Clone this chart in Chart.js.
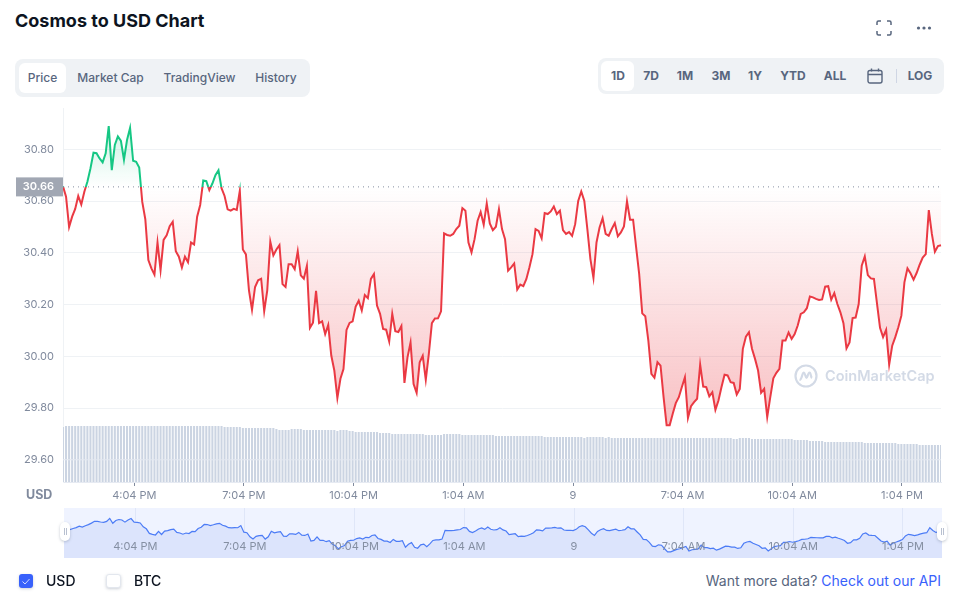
<!DOCTYPE html>
<html>
<head>
<meta charset="utf-8">
<title>Cosmos to USD Chart</title>
<script src="https://cdn.jsdelivr.net/npm/chart.js@4"></script>
<style>
  html, body { margin: 0; padding: 0; background: #fff; }
  body { width: 969px; height: 609px; position: relative; overflow: hidden; font-family: Inter, sans-serif; color: #58667e; }
  .abs { position: absolute; }
  .title { left: 15px; top: 10px; font-size: 18px; line-height: 22px; font-weight: 700; color: #0d1421; white-space: nowrap; }
  .panel { background: #eff2f5; border-radius: 8px; }
  .pill { background: #fff; border-radius: 6px; }
  .lbl { font-size: 12px; line-height: 16px; font-weight: 500; white-space: nowrap; transform: translateX(-50%); }
  #mainChart { left: 0; top: 100px; }
  #navBox { left: 64px; top: 508px; width: 878px; height: 50px; background: #eff3ff; }
  .handle { width: 10px; height: 19px; top: 522px; background: #fff; border-radius: 5px; box-shadow: 0 1px 3px rgba(88,102,126,.35); }
  .handle i { position: absolute; top: 6px; width: 1px; height: 7px; background: #b8c0d0; }
  .usd { left: 26px; top: 487px; font-size: 12.500px; line-height: 15px; font-weight: 700; color: #808a9d; }
  .mark { left: 825px; top: 366px; font-size: 14.500px; line-height: 20px; font-weight: 600; color: #d3dae6; white-space: nowrap; }
  .box { top: 574px; width: 14px; height: 14px; border-radius: 3px; box-shadow: 0 1px 3px rgba(88,102,126,.3); }
  .leg { top: 572px; font-size: 14px; line-height: 18px; font-weight: 500; color: #0d1421; }
  .api { right: 28px; top: 572px; font-size: 14px; line-height: 18px; color: #58667e; white-space: nowrap; }
  .api a { color: #3861fb; text-decoration: none; }
</style>
</head>
<body>
<div class="abs title">Cosmos to USD Chart</div>

<svg class="abs" style="left:876px;top:20px" width="16" height="16" viewBox="0 0 16 16" fill="none" stroke="#58667e" stroke-width="1.5">
  <path d="M1 5V2.5A1.5 1.5 0 0 1 2.500 1H5M11 1h2.500A1.500 1.500 0 0 1 15 2.500V5M15 11v2.500a1.500 1.500 0 0 1-1.500 1.500H11M5 15H2.500A1.500 1.500 0 0 1 1 13.500V11"/>
</svg>
<svg class="abs" style="left:916px;top:25px" width="16" height="6" viewBox="0 0 16 6" fill="#58667e">
  <circle cx="2.500" cy="3" r="1.600"/><circle cx="8" cy="3" r="1.600"/><circle cx="13.500" cy="3" r="1.600"/>
</svg>

<!-- tabs left -->
<div class="abs panel" style="left:15px;top:59px;width:295px;height:38px"></div>
<div class="abs pill" style="left:19px;top:63px;width:47px;height:30px"></div>
<div class="abs lbl" style="left:42.500px;top:70px">Price</div>
<div class="abs lbl" style="left:110.500px;top:70px">Market Cap</div>
<div class="abs lbl" style="left:199.500px;top:70px">TradingView</div>
<div class="abs lbl" style="left:276px;top:70px">History</div>

<!-- range right -->
<div class="abs panel" style="left:598px;top:58px;width:346px;height:36px"></div>
<div class="abs pill" style="left:601px;top:61px;width:33px;height:30px"></div>
<div class="abs lbl" style="left:618px;top:68px;font-weight:700">1D</div>
<div class="abs lbl" style="left:651px;top:68px;font-weight:700">7D</div>
<div class="abs lbl" style="left:685px;top:68px;font-weight:700">1M</div>
<div class="abs lbl" style="left:721px;top:68px;font-weight:700">3M</div>
<div class="abs lbl" style="left:755px;top:68px;font-weight:700">1Y</div>
<div class="abs lbl" style="left:793px;top:68px;font-weight:700">YTD</div>
<div class="abs lbl" style="left:835px;top:68px;font-weight:700">ALL</div>
<svg class="abs" style="left:867px;top:68px" width="16" height="16" viewBox="0 0 16 16" fill="none" stroke="#58667e" stroke-width="1.400">
  <rect x="1" y="2.500" width="14" height="12.500" rx="2"/><path d="M1 6.500h14M4.500 0.500v3M11.500 0.500v3"/>
</svg>
<div class="abs" style="left:896px;top:69px;width:1px;height:14px;background:#cfd6e4"></div>
<div class="abs lbl" style="left:920px;top:68px;font-weight:700">LOG</div>

<canvas id="mainChart" class="abs" width="969" height="410" style="width:969px;height:410px"></canvas>
<div class="abs usd">USD</div>

<svg class="abs" style="left:794px;top:364px" width="24" height="24" viewBox="0 0 24 24" fill="none" stroke="#d3dae6" stroke-width="2.200">
  <circle cx="12" cy="12" r="10.500"/><path d="M5.500 16c1.500 0 2-2 2.500-4s1-3.500 2-3.500 1.500 5.500 2.500 5.500 1.500-5.500 3-5.500 1 4.500 2.500 5.500"/>
</svg>
<div class="abs mark">CoinMarketCap</div>

<div id="navBox" class="abs"><canvas id="navChart" width="878" height="50" style="width:878px;height:50px;display:block"></canvas></div>
<div class="abs handle" style="left:60px"><i style="left:3.500px"></i><i style="left:5.500px"></i></div>
<div class="abs handle" style="left:937px"><i style="left:3.500px"></i><i style="left:5.500px"></i></div>

<div class="abs box" style="left:19px;background:#3861fb"></div>
<svg class="abs" style="left:19px;top:574px" width="14" height="14" viewBox="0 0 14 14" fill="none" stroke="#cfd9ff" stroke-width="1"><path d="M3.500 7.500l2.500 2.500 4.500-5"/></svg>
<div class="abs leg" style="left:46px">USD</div>
<div class="abs box" style="left:105.500px;width:15px;background:#fff;border:1px solid #e3e7ee;box-sizing:border-box"></div>
<div class="abs leg" style="left:134px">BTC</div>
<div class="abs api">Want more data? <a>Check out our API</a></div>

<script>
// prezzo ogni 5 min
const closePrices = [
  30.657,30.617,30.50,30.54,30.57,30.62,30.587,30.636,30.675,30.726,
  30.787,30.785,30.765,30.75,30.785,30.89,30.72,30.817,30.85,30.833,
  30.76,30.836,30.883,30.756,30.752,30.73,30.597,30.53,30.372,30.34,
  30.316,30.44,30.333,30.45,30.468,30.503,30.52,30.406,30.385,30.343,
  30.385,30.364,30.44,30.432,30.54,30.585,30.68,30.677,30.643,30.668,
  30.70,30.719,30.65,30.62,30.568,30.563,30.57,30.566,30.64,30.413,
  30.394,30.255,30.18,30.268,30.294,30.30,30.175,30.255,30.443,30.39,
  30.413,30.43,30.279,30.268,30.356,30.356,30.337,30.406,30.313,30.30,
  30.35,30.11,30.13,30.253,
  30.128,30.135,30.086,30.121,30.003,29.945,29.839,29.913,29.951,30.102,
  30.129,30.135,30.192,30.215,30.177,30.237,30.225,30.299,30.318,30.196,
  30.164,30.106,30.103,30.057,30.164,30.097,30.094,30.117,29.897,29.996,
  30.053,29.893,29.859,29.977,30.002,29.909,30.009,30.128,30.146,30.147,
  30.174,30.475,30.469,30.466,30.473,30.492,30.505,30.573,30.563,30.44,
  30.402,30.453,30.524,30.558,30.509,30.591,30.514,30.488,30.501,30.569,
  30.492,30.453,30.331,30.344,30.359,30.258,30.277,30.271,30.299,30.344,
  30.395,30.492,30.485,30.456,30.554,30.55,30.56,30.579,30.55,30.563,
  30.488,30.473,30.48,30.466,30.511,30.601,30.637,30.601,30.492,30.376,
  30.303,30.44,30.498,30.534,30.473,30.466,30.492,30.515,30.464,30.479,
  30.502,30.599,30.528,30.528,
  30.421,30.318,30.166,30.155,30.061,29.932,29.917,29.977,29.964,29.842,
  29.733,29.733,29.778,29.819,29.842,29.881,29.919,29.762,29.807,29.823,
  29.836,29.968,29.883,29.881,29.845,29.861,29.793,29.829,29.881,29.929,
  29.926,29.90,29.897,29.852,29.874,30.029,30.076,30.093,30.029,29.99,
  29.945,29.859,29.874,29.765,29.842,29.915,29.936,29.951,30.061,30.061,
  30.092,30.067,30.086,30.119,30.164,30.17,30.186,30.231,30.228,30.222,
  30.218,30.22,30.269,30.271,30.219,30.244,30.202,30.17,30.128,30.031,
  30.054,30.148,30.15,30.202,30.35,30.386,30.314,30.301,30.299,30.205,
  30.11,30.074,30.102,29.968,30.041,30.074,30.112,30.157,30.286,30.34,
  30.321,30.296,30.322,30.354,30.382,30.395,30.565,30.473,30.404,30.426,
  30.429
];

// volume, unita' arbitrarie
const volumes = [
  55,56,56,56,56,56,56,56,56,56,56,56,56,56,56,56,56,56,56,56,
  56,56,56,56,56,56,56,56,56,56,56,56,56,56,56,56,56,56,56,56,
  56,56,56,56,56,56,56,56,56,56,56,56,56,55,55,55,55,55,55,54,
  54,54,54,54,54,54,54,54,54,54,53,52,52,52,52,53,53,53,53,52,
  52,52,52,52,52,52,52,52,52,52,51,52,52,52,51,51,50,50,50,50,
  50,50,50,50,49,49,49,49,48,48,48,48,48,48,48,48,48,48,48,47,
  47,47,47,47,47,48,48,48,48,48,48,47,47,47,47,47,47,47,47,47,
  47,47,46,46,46,46,46,46,46,46,46,46,46,46,46,46,46,46,45,45,
  45,45,45,45,45,45,45,45,45,45,45,44,45,45,45,45,45,45,44,45,
  44,44,44,44,44,44,44,44,44,44,44,44,44,44,44,44,44,44,44,44,
  44,44,44,44,44,44,44,44,44,44,44,44,44,44,44,44,44,44,44,44,
  43,43,44,44,44,44,43,43,43,43,43,43,43,43,43,43,43,43,43,43,
  42,42,42,42,42,41,41,41,41,41,40,40,40,40,40,40,40,40,40,40,
  40,40,40,39,39,39,39,39,39,39,39,39,39,39,38,38,38,38,38,38,
  38,37,37,37,37,37,37,37,37
];

const basePrice = 30.655;
const baseLabel = '30.66';
const priceTicks = [29.6, 29.8, 30.0, 30.2, 30.4, 30.6, 30.8];
const timeTicks = [23.4, 59.3, 95.3, 131.3, 167.3, 203.2, 239.2, 275.2];
const timeLabels = ['4:04 PM', '7:04 PM', '10:04 PM', '1:04 AM', '9', '7:04 AM', '10:04 AM', '1:04 PM'];

const categories = closePrices.map((_, i) => i);
const baseLine = closePrices.map(() => basePrice);
const lowLine = closePrices.map(() => priceTicks[0]);

const RED = '#ea3943';
const GREEN = '#16c784';
const GREY = '#808a9d';
const GRID = '#eff2f5';

// sopra la base verde, sotto rosso
function lineColor(ctx) {
  const chart = ctx.chart;
  const area = chart.chartArea;
  const yBase = chart.scales.y ? chart.scales.y.getPixelForValue(basePrice) : NaN;
  if (!area || !isFinite(yBase)) return RED;
  const stop = (yBase - area.top) / (area.bottom - area.top);
  const g = chart.ctx.createLinearGradient(0, area.top, 0, area.bottom);
  g.addColorStop(0, GREEN);
  g.addColorStop(stop, GREEN);
  g.addColorStop(stop, RED);
  g.addColorStop(1, RED);
  return g;
}

function fillColors(ctx) {
  const chart = ctx.chart;
  const y = chart.scales.y;
  const yBase = y ? y.getPixelForValue(basePrice) : NaN;
  if (!isFinite(yBase)) return { target: { value: basePrice }, above: 'transparent', below: 'transparent' };
  const up = chart.ctx.createLinearGradient(0, y.getPixelForValue(30.89), 0, yBase);
  up.addColorStop(0, 'rgba(22,199,132,0.22)');
  up.addColorStop(1, 'rgba(22,199,132,0)');
  const down = chart.ctx.createLinearGradient(0, yBase, 0, y.getPixelForValue(29.73));
  down.addColorStop(0, 'rgba(234,57,67,0)');
  down.addColorStop(1, 'rgba(234,57,67,0.32)');
  return { target: { value: basePrice }, above: up, below: down };
}

// etichetta grigia col prezzo di riferimento
const baseTag = {
  id: 'baseTag',
  afterDraw(chart) {
    const c = chart.ctx;
    const yBase = chart.scales.y.getPixelForValue(basePrice);
    c.save();
    c.fillStyle = '#a1a7b3';
    c.fillRect(16, yBase - 9.5, chart.chartArea.left - 16, 19);
    c.fillStyle = '#fff';
    c.font = '600 11px Inter';
    c.textAlign = 'right';
    c.textBaseline = 'middle';
    c.fillText(baseLabel, chart.chartArea.left - 9, yBase);
    c.restore();
  }
};

new Chart(document.getElementById('mainChart'), {
  type: 'line',
  data: {
    labels: categories,
    datasets: [
      {
        data: closePrices,
        yAxisID: 'y',
        borderColor: lineColor,
        borderWidth: 2,
        pointRadius: 0,
        tension: 0,
        fill: fillColors,
        order: 1
      },
      {
        data: baseLine,
        yAxisID: 'y',
        borderColor: GREY,
        borderWidth: 1,
        borderDash: [1, 4],
        pointRadius: 0,
        fill: false,
        order: 0
      },
      {
        data: lowLine,
        yAxisID: 'y',
        borderColor: '#e6eaf2',
        borderWidth: 1,
        pointRadius: 0,
        fill: false,
        order: 2
      },
      {
        type: 'bar',
        data: volumes,
        yAxisID: 'vol',
        backgroundColor: '#cbd4e2',
        barPercentage: 0.68,
        categoryPercentage: 1,
        order: 3
      }
    ]
  },
  options: {
    responsive: false,
    animation: false,
    layout: { padding: { left: 15, right: 28, top: 8, bottom: 0 } },
    plugins: { legend: { display: false }, tooltip: { enabled: false } },
    scales: {
      x: {
        offset: false,
        grid: { display: true, drawOnChartArea: false, drawTicks: true, tickLength: 4, tickColor: GREY, offset: false },
        border: { color: '#e6eaf2' },
        ticks: {
          autoSkip: false, maxRotation: 0, color: GREY, padding: 3,
          font: { family: 'Inter', size: 11 },
          callback: (v, i) => timeLabels[i]
        },
        afterBuildTicks: s => { s.ticks = timeTicks.map(v => ({ value: v })); },
        afterFit: s => { s.height = 28; }
      },
      y: {
        min: 29.514,
        max: 30.96,
        grid: { color: GRID, drawTicks: false },
        border: { color: GRID },
        ticks: {
          color: GREY, padding: 9,
          font: { family: 'Inter', size: 11 },
          callback: v => v.toFixed(2)
        },
        afterBuildTicks: s => { s.ticks = priceTicks.map(v => ({ value: v })); },
        afterFit: s => { s.width = 48; s.paddingTop = 0; s.paddingBottom = 0; }
      },
      vol: { display: false, min: 0, max: 374 }
    }
  },
  plugins: [baseTag]
});

// navigatore in basso, stessi dati
new Chart(document.getElementById('navChart'), {
  type: 'line',
  data: {
    labels: categories,
    datasets: [{
      data: closePrices,
      borderColor: '#4c7cf6',
      borderWidth: 1.2,
      pointRadius: 0,
      tension: 0,
      fill: 'start',
      backgroundColor: '#dce4fc'
    }]
  },
  options: {
    responsive: false,
    animation: false,
    layout: { padding: 0 },
    plugins: { legend: { display: false }, tooltip: { enabled: false } },
    scales: {
      x: {
        offset: false,
        grid: { color: '#dfe6f8', drawTicks: false, offset: false },
        border: { display: false },
        ticks: {
          z: 1,
          autoSkip: false, maxRotation: 0, color: 'rgba(128,138,157,0.95)', mirror: true, padding: 4.5,
          font: { family: 'Inter', size: 11 },
          callback: (v, i) => timeLabels[i]
        },
        afterBuildTicks: s => { s.ticks = timeTicks.map(v => ({ value: v })); },
        afterFit: s => { s.height = 0; }
      },
      y: { display: false, min: 29.523, max: 31.247 }
    }
  }
});
</script>
</body>
</html>
